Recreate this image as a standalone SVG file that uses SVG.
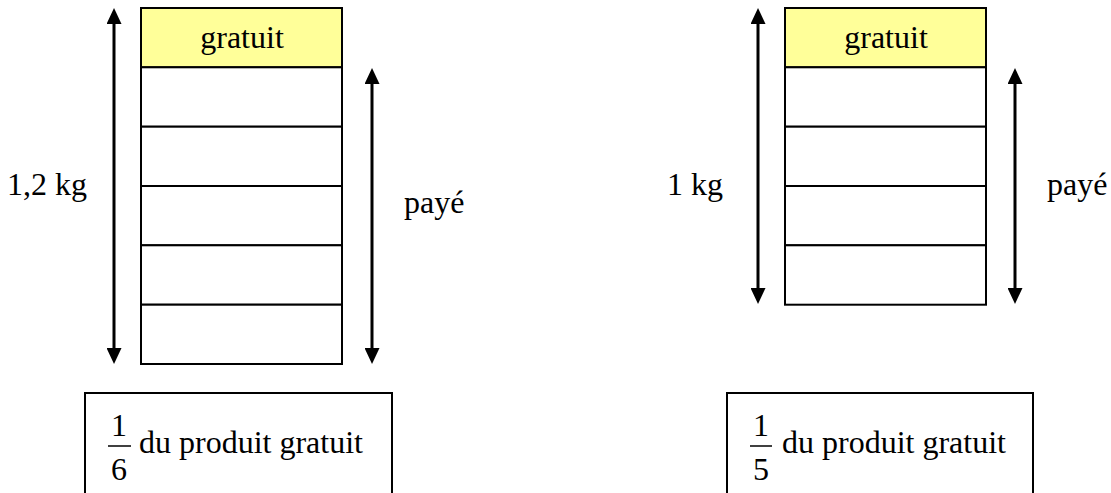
<svg xmlns="http://www.w3.org/2000/svg" width="1111" height="493" viewBox="0 0 1111 493">
  <style>
    .cell { fill: #ffffff; stroke: #000000; stroke-width: 2; }
    .free { fill: #ffff99; stroke: #000000; stroke-width: 2; }
    .box { fill: #ffffff; stroke: #000000; stroke-width: 2; }
    .t { font-family: 'Liberation Serif', 'Times New Roman', serif; font-size: 32px; fill: #000000; }
    .fr { font-family: 'Liberation Serif', 'Times New Roman', serif; font-size: 32px; fill: #000000; text-anchor: middle; }
    .arr { stroke: #000000; stroke-width: 3; fill: none; marker-start: url(#ah); marker-end: url(#ah); }
  </style>
  <defs>
    <marker id="ah" markerUnits="userSpaceOnUse" markerWidth="16" markerHeight="15" refX="0" refY="7.5" orient="auto-start-reverse" viewBox="0 0 16 15">
      <path d="M0,0 L16,7.5 L0,15 z" fill="#000000"/>
    </marker>
  </defs>
  <rect width="1111" height="493" fill="#ffffff"/>

  <g id="stack-left">
    <rect class="free" x="141" y="8" width="201" height="59.3"/>
    <rect class="cell" x="141" y="67.3" width="201" height="59.4"/>
    <rect class="cell" x="141" y="126.7" width="201" height="59.3"/>
    <rect class="cell" x="141" y="186" width="201" height="59.3"/>
    <rect class="cell" x="141" y="245.3" width="201" height="59.4"/>
    <rect class="cell" x="141" y="304.7" width="201" height="59.3"/>
    <text class="t" x="242" y="48" text-anchor="middle">gratuit</text>
  </g>

  <g id="stack-right">
    <rect class="free" x="785" y="8" width="201" height="59.3"/>
    <rect class="cell" x="785" y="67.3" width="201" height="59.4"/>
    <rect class="cell" x="785" y="126.7" width="201" height="59.3"/>
    <rect class="cell" x="785" y="186" width="201" height="59.3"/>
    <rect class="cell" x="785" y="245.3" width="201" height="59.4"/>
    <text class="t" x="886" y="48" text-anchor="middle">gratuit</text>
  </g>

  <g id="connectors">
    <line class="arr" x1="114" y1="24" x2="114" y2="348"/>
    <line class="arr" x1="372" y1="84" x2="372" y2="348"/>
    <line class="arr" x1="758" y1="24" x2="758" y2="288"/>
    <line class="arr" x1="1015" y1="84" x2="1015" y2="288"/>
  </g>

  <g id="label-left-weight"><text class="t" x="7" y="195">1,2 kg</text></g>
  <g id="label-left-paid"><text class="t" x="404" y="213">payé</text></g>
  <g id="label-right-weight"><text class="t" x="667" y="195">1 kg</text></g>
  <g id="label-right-paid"><text class="t" x="1047" y="195">payé</text></g>

  <g id="note-left">
    <rect class="box" x="85" y="393" width="307" height="120"/>
    <text class="fr" x="119" y="436">1</text>
    <line x1="108" y1="446" x2="131" y2="446" stroke="#000000" stroke-width="1.5"/>
    <text class="fr" x="119" y="480">6</text>
    <text class="t" x="139" y="453">du produit gratuit</text>
  </g>

  <g id="note-right">
    <rect class="box" x="727" y="393" width="306" height="120"/>
    <text class="fr" x="761" y="436">1</text>
    <line x1="750" y1="446" x2="772" y2="446" stroke="#000000" stroke-width="1.5"/>
    <text class="fr" x="761" y="480">5</text>
    <text class="t" x="782" y="453">du produit gratuit</text>
  </g>
</svg>
